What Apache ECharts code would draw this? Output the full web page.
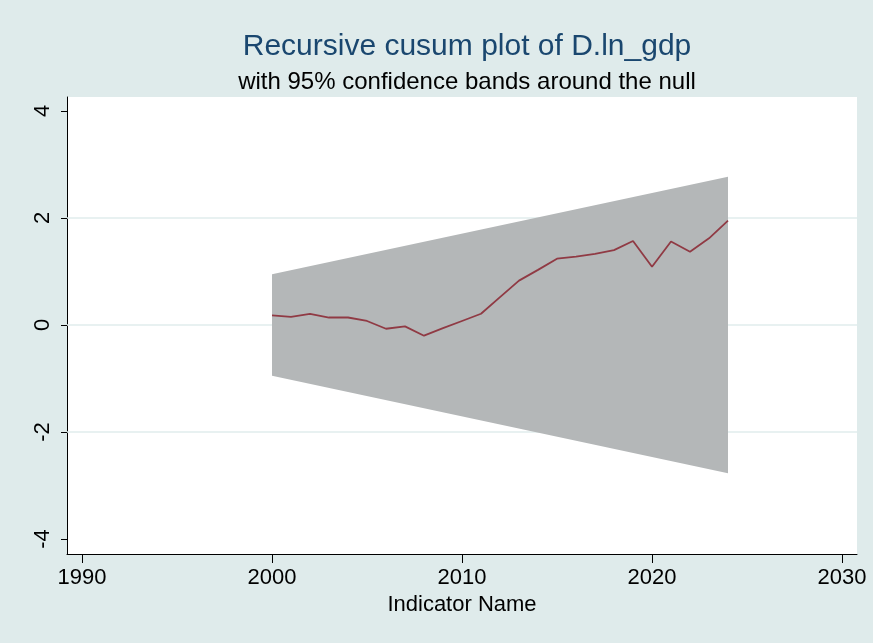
<!DOCTYPE html>
<html>
<head>
<meta charset="utf-8">
<script src="https://cdn.jsdelivr.net/npm/echarts@6/dist/echarts.min.js"></script>
<style>
html,body{margin:0;padding:0;background:#DFEBEB;}
#chart{width:873px;height:643px;}
</style>
</head>
<body>
<div id="chart"></div>
<script>
// ---- data ----
var years = [2000,2001,2002,2003,2004,2005,2006,2007,2008,2009,2010,2011,2012,2013,2014,2015,2016,2017,2018,2019,2020,2021,2022,2023,2024];
var cusum = [0.18,0.15,0.21,0.14,0.14,0.075,-0.07,-0.025,-0.2,-0.06,0.075,0.21,0.52,0.83,1.03,1.24,1.28,1.33,1.40,1.57,1.09,1.56,1.37,1.62,1.95];
var bandYears = [2000, 2024];
var bandUpper = [0.95, 2.77];
var bandLower = [-0.95, -2.77];
var xTicks = [1990, 2000, 2010, 2020, 2030];
var yTicks = [-4, -2, 0, 2, 4];
var gridValues = [-2, 0, 2];
var titleText = 'Recursive cusum plot of D.ln_gdp';
var subtitleText = 'with 95% confidence bands around the null';
var xName = 'Indicator Name';

var FONT = "'Liberation Sans', Arial, sans-serif";
var chart = echarts.init(document.getElementById('chart'), null, {renderer: 'canvas'});

var lineData = years.map(function (y, i) { return [y, cusum[i]]; });
var bandData = bandYears.map(function (y, i) { return [y, bandUpper[i], bandLower[i]]; });

var option = {
  backgroundColor: '#DFEBEB',
  animation: false,
  title: {
    text: titleText,
    subtext: subtitleText,
    left: 462,
    textAlign: 'center',
    top: 27,
    itemGap: 8,
    textStyle: {fontFamily: FONT, fontSize: 30, fontWeight: 'normal', color: '#1A476F'},
    subtextStyle: {fontFamily: FONT, fontSize: 24, color: '#000000'}
  },
  grid: {left: 67, right: 16, top: 97, bottom: 89, show: true, backgroundColor: '#FFFFFF', borderWidth: 0},
  xAxis: {
    type: 'value',
    min: 1989.2105,
    max: 2030.7895,
    name: xName,
    nameLocation: 'middle',
    nameGap: 37,
    nameTextStyle: {fontFamily: FONT, fontSize: 22, color: '#000'},
    axisLine: {show: true, onZero: false, lineStyle: {color: '#000', width: 1}},
    axisTick: {show: true, length: 9, customValues: xTicks, lineStyle: {color: '#000'}},
    axisLabel: {customValues: xTicks, fontFamily: FONT, fontSize: 22, color: '#000', margin: 13,
      formatter: function (v) { return String(v); }},
    splitLine: {show: false}
  },
  yAxis: {
    type: 'value',
    min: -4.2804,
    max: 4.2617,
    axisLine: {show: true, onZero: false, lineStyle: {color: '#000', width: 1}},
    axisTick: {show: true, length: 6, customValues: yTicks, lineStyle: {color: '#000'}},
    axisLabel: {customValues: yTicks, rotate: 90, fontFamily: FONT, fontSize: 22, color: '#000', margin: 13,
      formatter: function (v) { return String(v); }},
    splitLine: {show: false}
  },
  series: [
    {
      type: 'line',
      data: [],
      z: 1,
      silent: true,
      markLine: {
        silent: true,
        z: 1,
        symbol: 'none',
        label: {show: false},
        lineStyle: {color: '#E1EDED', width: 1.5, type: 'solid'},
        data: gridValues.map(function (v) { return {yAxis: v}; })
      }
    },
    {
      type: 'custom',
      z: 2,
      silent: true,
      data: bandData,
      renderItem: function (params, api) {
        if (params.dataIndex !== 0) return null;
        var pts = [];
        for (var i = 0; i < bandData.length; i++) pts.push(api.coord([bandData[i][0], bandData[i][1]]));
        for (var j = bandData.length - 1; j >= 0; j--) pts.push(api.coord([bandData[j][0], bandData[j][2]]));
        return {type: 'polygon', shape: {points: pts}, style: {fill: '#B4B7B8', stroke: null}};
      }
    },
    {
      type: 'line',
      z: 3,
      data: lineData,
      showSymbol: false,
      symbol: 'none',
      lineStyle: {color: '#903A44', width: 1.8},
      silent: true
    }
  ]
};
chart.setOption(option);
</script>
</body>
</html>
